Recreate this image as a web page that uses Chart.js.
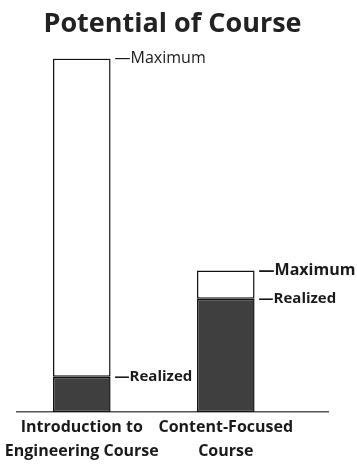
<!DOCTYPE html>
<html>
<head>
<meta charset="utf-8">
<script src="https://cdn.jsdelivr.net/npm/chart.js@4"></script>
<style>
  html, body { margin: 0; padding: 0; background: #fff; }
  #wrap { width: 357px; height: 466px; }
</style>
</head>
<body>
<div id="wrap"><canvas id="potential"></canvas></div>
<script>
// categories and values (max = 100 for the intro course)
const courses = [['Introduction to', 'Engineering Course'], ['Content-Focused', 'Course']];
const realized = [10, 32];
const maximum = [100, 40];
const maxLabelBold = [false, true];

const remaining = maximum.map((m, i) => m - realized[i]);

var ctx = document.getElementById('potential').getContext('2d');

/* little "—Maximum" / "—Realized" tags next to each bar */
const tagPlugin = {
    id: 'tags',
    afterDatasetsDraw(chart) {
        const c = chart.ctx;
        const low = chart.getDatasetMeta(0).data;
        const high = chart.getDatasetMeta(1).data;
        c.save();
        c.fillStyle = '#1a1a1a';
        c.textBaseline = 'middle';
        c.textAlign = 'left';
        courses.forEach((name, i) => {
            const x = high[i].x + high[i].width / 2 + 4;
            c.font = (maxLabelBold[i] ? 'bold ' : '') + '16px "Open Sans"';
            c.fillText('\u2014Maximum', x, high[i].y);
            c.font = 'bold 15px "Open Sans"';
            c.fillText('\u2014Realized', x, low[i].y);
        });
        c.restore();
    }
};

var myChart = new Chart(ctx, {
    type: 'bar',
    data: {
        datasets: [{
            label: 'Realized',
            data: realized.map((v, i) => ({x: i + 0.5, y: v})),
            backgroundColor: '#3f3f3f',
            borderColor: '#111',
            borderWidth: 1.5,
            borderSkipped: false
        }, {
            label: 'Maximum',
            data: remaining.map((v, i) => ({x: i + 0.5, y: v})),
            backgroundColor: '#ffffff',
            borderColor: '#111',
            borderWidth: 1.5,
            borderSkipped: false
        }]
    },
    options: {
        responsive: true,
        maintainAspectRatio: false,
        animation: false,
        categoryPercentage: 1,
        barPercentage: 0.4,
        layout: { padding: { left: 17, right: 29, top: 0, bottom: 0 } },
        plugins: {
            legend: { display: false },
            tooltip: { enabled: false },
            title: {
                display: true,
                text: 'Potential of Course',
                color: '#222',
                font: { family: 'Open Sans', size: 27, weight: 'bold', lineHeight: 1.2 },
                padding: { top: 8, bottom: 18 }
            }
        },
        scales: {
            x: {
                type: 'linear',
                stacked: true,
                offset: false,
                min: 0.05,
                max: 2.21,
                afterBuildTicks: (axis) => {
                    axis.ticks = courses.map((c, i) => ({ value: i + 0.5 }));
                },
                afterFit: (axis) => {
                    // labels may hang past the axis ends, keep the plot width
                    axis.paddingLeft = 0;
                    axis.paddingRight = 0;
                },
                grid: { display: false, drawTicks: false },
                border: { display: true, color: '#555', width: 1.5 },
                ticks: {
                    autoSkip: false,
                    maxRotation: 0,
                    padding: 3,
                    color: '#1a1a1a',
                    font: { family: 'Open Sans', size: 16, weight: 'bold', lineHeight: 1.5 },
                    callback: (v) => courses[Math.round(v - 0.5)]
                }
            },
            y: {
                stacked: true,
                display: false,
                min: 0,
                max: 100
            }
        }
    },
    plugins: [tagPlugin]
});
</script>
</body>
</html>
